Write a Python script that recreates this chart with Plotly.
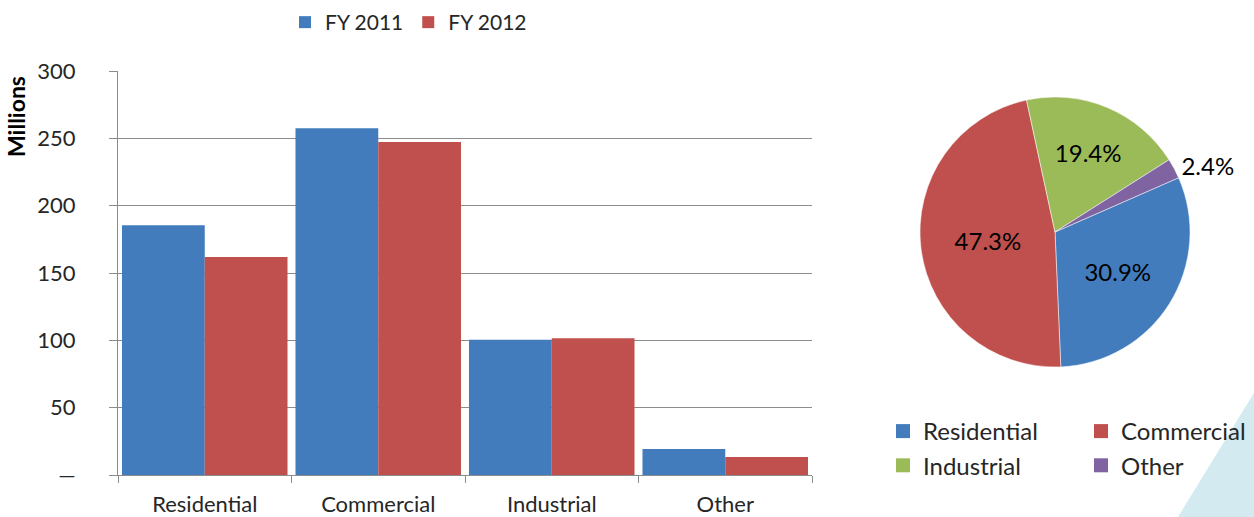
import plotly.graph_objects as go

W, H = 1254, 517

categories = ["Residential", "Commercial", "Industrial", "Other"]
fy2011 = [185.5, 257.5, 100.5, 19.3]
fy2012 = [161.8, 247.2, 101.5, 13.4]
pie_labels = ["Residential", "Commercial", "Industrial", "Other"]
pie_values = [30.9, 47.3, 19.4, 2.4]
y_tickvals = [0, 50, 100, 150, 200, 250, 300]
y_ticktext = ["\u2014", "50", "100", "150", "200", "250", "300"]

BLUE = "#427CBD"
RED = "#C0504D"
GREEN = "#9BBB59"
PURPLE = "#8064A2"
PIE_COLORS = [BLUE, RED, GREEN, PURPLE]
GRID = "#8C8C8C"
FONT = "Lato"
TXT = "#262626"

def px(x):
    return x / W

def py(y):
    return 1 - y / H

fig = go.Figure()
fig.add_trace(go.Bar(name="FY 2011", x=categories, y=fy2011, marker_color=BLUE,
                     marker_line_width=0, legend="legend"))
fig.add_trace(go.Bar(name="FY 2012", x=categories, y=fy2012, marker_color=RED,
                     marker_line_width=0, legend="legend"))
fig.add_trace(go.Pie(labels=pie_labels, values=pie_values, sort=False,
                     direction="clockwise", rotation=66.3,
                     marker=dict(colors=PIE_COLORS,
                                 line=dict(color="white", width=0.5)),
                     texttemplate="%{percent:.1%}",
                     textposition=["inside", "inside", "inside", "outside"],
                     insidetextorientation="horizontal",
                     textfont=dict(size=24, color="black", family=FONT),
                     domain=dict(x=[px(920), px(1190)], y=[py(367), py(97)]),
                     showlegend=False))

# legend entries for the pie (two columns), drawn as empty legend-only traces
for i, (lab, col) in enumerate(zip(pie_labels, PIE_COLORS)):
    fig.add_trace(go.Scatter(x=[None], y=[None], mode="markers", name=lab,
                             marker=dict(symbol="square", size=14, color=col),
                             legend="legend2" if i % 2 == 0 else "legend3",
                             hoverinfo="skip"))

legend_common = dict(orientation="v", xanchor="left", yanchor="top",
                     font=dict(size=24, color=TXT, family=FONT), itemwidth=30,
                     traceorder="normal", bgcolor="rgba(0,0,0,0)",
                     tracegroupgap=0)

fig.update_layout(
    width=W, height=H,
    margin=dict(l=0, r=0, t=0, b=0, autoexpand=False),
    paper_bgcolor="white", plot_bgcolor="white",
    font=dict(family=FONT, size=22, color=TXT),
    barmode="group", bargap=0.046, bargroupgap=0,
    xaxis=dict(domain=[px(118), px(812)], showgrid=False, showline=True,
               linecolor=GRID, linewidth=1, ticks="outside", tickson="boundaries",
               ticklen=7, tickcolor=GRID, tickfont=dict(size=22, color=TXT),
               ticklabelstandoff=10, automargin=False),
    yaxis=dict(domain=[py(475), py(71)], range=[0, 300], tickvals=y_tickvals,
               ticktext=y_ticktext, showgrid=True, gridcolor=GRID, gridwidth=1,
               showline=True, linecolor=GRID, linewidth=1, ticks="outside",
               ticklen=8, tickcolor=GRID, zeroline=False, automargin=False,
               tickfont=dict(size=22, color=TXT), ticklabelstandoff=29),
    legend=dict(orientation="h", x=px(285), y=py(2), xanchor="left", yanchor="top",
                font=dict(size=21, color=TXT, family=FONT), itemwidth=30,
                traceorder="normal", bgcolor="rgba(0,0,0,0)"),
    legend2=dict(x=px(883), y=py(409), **legend_common),
    legend3=dict(x=px(1081), y=py(409), **legend_common),
    showlegend=True,
)

fig.add_annotation(text="<b>Millions</b>", x=px(16), y=py(117), xref="paper", yref="paper",
                   xanchor="center", yanchor="middle",
                   textangle=-90, showarrow=False, font=dict(size=23, color="black"))

fig.add_shape(type="path", xref="paper", yref="paper",
              path=f"M {px(1254)} {py(393)} L {px(1254)} {py(517)} L {px(1178)} {py(517)} Z",
              fillcolor="#D3EAF1", line=dict(width=0), layer="below")

fig.write_html("out.html", config={"displayModeBar": False},
               post_script="document.body.style.margin='0';")
